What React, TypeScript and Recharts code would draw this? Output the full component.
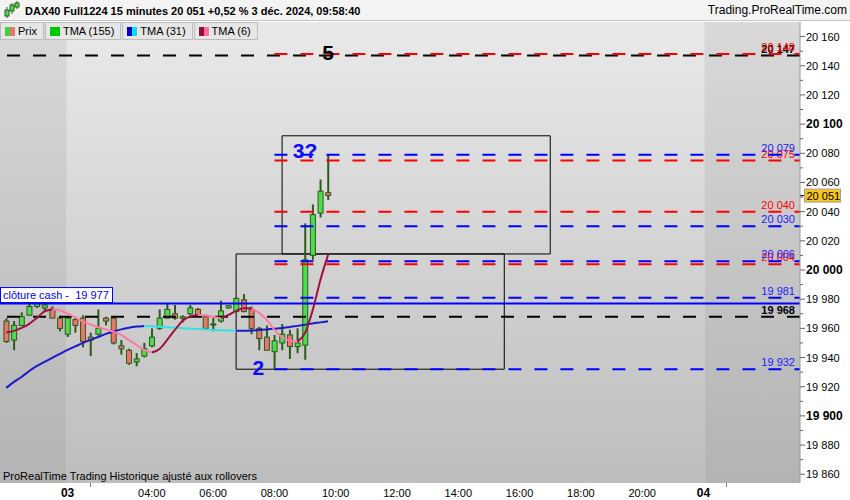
import React from 'react';
import { ComposedChart, Bar, Line, XAxis, YAxis, ReferenceLine, ReferenceArea, ReferenceDot } from 'recharts';

// 15 min bars, index 0 = 2 Dec 21:45 (last bar before the night gap), index 42 = 3 Dec 09:45
const candleOpen = [19965, 19952, 19962, 19969, 19975, 19974, 19973, 19967, 19956, 19966, 19967, 19954, 19956, 19967, 19967, 19948, 19945, 19937, 19941, 19948, 19960, 19967, 19970, 19967, 19970, 19973, 19968, 19963, 19965, 19974, 19971.5, 19979.5, 19973, 19960, 19954, 19944, 19950, 19955.5, 19947.5, 19948.5, 20010, 20039, 20053];
const candleHigh = [19967, 19965, 19971, 19978, 19979, 19978, 19975, 19968, 19968, 19968, 19969, 19957, 19973, 19968, 19968, 19952, 19946, 19943, 19950, 19960, 19973, 19977, 19976, 19969, 19976, 19974, 19969, 19968, 19979, 19976, 19981, 19983.5, 19975, 19961, 19962, 19955.5, 19963, 19959, 19960, 20032, 20045, 20062, 20079];
const candleLow = [19950, 19945, 19962, 19969, 19974, 19972, 19967, 19958, 19954, 19957, 19947, 19941, 19955, 19962, 19949, 19942, 19935, 19934, 19940, 19947, 19959, 19967, 19966, 19964, 19969, 19969, 19960, 19958, 19964, 19973.5, 19971, 19971, 19956, 19945, 19945, 19932, 19945, 19939, 19943, 19938.5, 20007, 20036, 20048];
const candleClose = [19951, 19962, 19968, 19975, 19977, 19976, 19967, 19960, 19967, 19962, 19951, 19952, 19960, 19965, 19950, 19946, 19936, 19939, 19946, 19954, 19967, 19973, 19967, 19968, 19974, 19969, 19960, 19962.5, 19972, 19975.5, 19980.5, 19971.5, 19960, 19953, 19945, 19951.5, 19956, 19947.5, 19950, 20007, 20038, 20054, 20051];

const tma31 = [19919.2, 19923.3, 19926.7, 19930.8, 19934.3, 19937, 19939.8, 19942.5, 19945.2, 19947.6, 19950, 19952.1, 19954.1, 19956.2, 19957.9, 19959.3, 19960.4, 19961.2, 19961.7, 19961.5, 19961.1, 19960.8, 19960.4, 19960.1, 19959.8, 19959.5, 19959.2, 19958.9, 19958.7, 19958.5, 19958.3, 19958.4, 19958.6, 19958.9, 19959.3, 19959.8, 19960.3, 19961, 19961.7, 19962.5, 19963.4, 19964.1, 19964.9];
const tma6 = [19957.2, 19958.3, 19960.3, 19963.1, 19967.2, 19971.6, 19973.1, 19972.3, 19970.2, 19967.5, 19964.8, 19962.7, 19960.8, 19959.3, 19957.7, 19955.5, 19952.1, 19948.6, 19945.2, 19943.4, 19945.9, 19952.1, 19958.9, 19965.1, 19968.2, 19969.2, 19969, 19967.8, 19967, 19969.2, 19972, 19973.7, 19973.8, 19970.6, 19965.8, 19958.9, 19953.8, 19951.7, 19950.9, 19956.9, 19972.6, 19993.2, 20010.4];

// x axis (bar index) ticks
const xTickIdx = [8, 11, 19, 27, 35, 43, 51, 59, 67, 75, 83, 91, 94];
const xTickLabels = ['03', '', '04:00', '06:00', '08:00', '10:00', '12:00', '14:00', '16:00', '18:00', '20:00', '04', ''];
const xMin = -0.82;
const xMax = 103.6;
const sessionStart = 7.9;
const sessionEnd = 91.1;

const yMajor = [19860, 19880, 19900, 19920, 19940, 19960, 19980, 20000, 20020, 20040, 20060, 20080, 20100, 20120, 20140, 20160];

// drawn levels
const redLevels = [20148, 20075, 20040, 20004];
const blueLevels = [20079, 20030, 20006, 19981, 19932];
const blackLevels = [20147, 19968];
const cashClose = 19977;
const levelsFromBar = 35;

const boxFrom = [30, 36];
const boxTo = [65, 71];
const boxLow = [19932, 20011];
const boxHigh = [20011, 20092];

const waveLabels = ['2', '3?', '5'];
const waveBars = [32.9, 39, 42];
const wavePrices = [19932.5, 20081.5, 20149];

const legendNames = ['Prix', 'TMA (155)', 'TMA (31)', 'TMA (6)'];
const legendColors = [['#3fd13f', '#e8766a'], ['#00c800', '#00c800'], ['#0000c8', '#00e0ff'], ['#9b0a3c', '#ff6f9a']];

const C = {
  up: '#4fdb4f',
  down: '#e8766a',
  edge: '#2c5a1a',
  blue31: '#1a1acb',
  cyan31: '#2fe4e4',
  rise6: '#a0103f',
  fall6: '#ff7aa2',
  red: '#ff0000',
  blue: '#0000ff',
};

const fmt = (v: number) => {
  const s = Math.round(v).toString();
  return s.slice(0, s.length - 3) + ' ' + s.slice(-3);
};

// split a series in rising / falling pieces so each can get its own colour
const pieces = (s: number[], rising: boolean) =>
  s.map((v, i) => {
    const prev = i > 0 && (rising ? v >= s[i - 1] : v < s[i - 1]);
    const next = i < s.length - 1 && (rising ? s[i + 1] >= v : s[i + 1] < v);
    return prev || next ? v : null;
  });

const r31 = pieces(tma31, true);
const f31 = pieces(tma31, false);
const r6 = pieces(tma6, true);
const f6 = pieces(tma6, false);

const data = candleOpen.map((open, i) => ({
  i,
  open,
  high: candleHigh[i],
  low: candleLow[i],
  close: candleClose[i],
  hl: [candleLow[i], candleHigh[i]],
  r31: r31[i],
  f31: f31[i],
  r6: r6[i],
  f6: f6[i],
}));

const Candle = (props: any) => {
  const { x, y, width, height, payload } = props;
  if (x == null || height == null) return null;
  const top0 = Math.min(y, y + height);
  const h = Math.abs(height);
  const k = h / (payload.high - payload.low);
  const cx = x + width / 2;
  const yo = top0 + (payload.high - payload.open) * k;
  const yc = top0 + (payload.high - payload.close) * k;
  const bt = Math.min(yo, yc);
  const bh = Math.max(Math.abs(yo - yc), 1);
  return (
    <g>
      <line x1={cx} x2={cx} y1={top0} y2={top0 + h} stroke={C.edge} strokeWidth={2} />
      <rect x={x + 0.5} y={bt} width={width - 1} height={bh} fill={payload.close >= payload.open ? C.up : C.down} stroke={C.edge} strokeWidth={1} />
    </g>
  );
};

const YTick = (props: any) => {
  const { x, y, payload } = props;
  const v = payload.value;
  const major = v % 20 === 0;
  const bold = v % 100 === 0;
  return (
    <g>
      <line x1={x} x2={x + (major ? 5 : 3)} y1={y} y2={y} stroke="#666" />
      {major && (
        <text x={x + 6} y={y + 4} fontSize={bold ? 12 : 11} fontWeight={bold ? 'bold' : 'normal'} fill="#000">
          {fmt(v)}
        </text>
      )}
    </g>
  );
};

const XTick = (props: any) => {
  const { x, y, payload } = props;
  const label = xTickLabels[xTickIdx.indexOf(payload.value)];
  if (!label) return <line x1={x} x2={x} y1={y} y2={y + 4} stroke="#777" />;
  const bold = !label.includes(':');
  return (
    <text x={x} y={y + 14} textAnchor="middle" fontSize={bold ? 12 : 11} fontWeight={bold ? 'bold' : 'normal'} fill="#000">
      {label}
    </text>
  );
};

const LevelLabel = (props: any) => {
  const { viewBox, text, color, bold } = props;
  if (!viewBox) return null;
  return (
    <text x={viewBox.x + viewBox.width - 5} y={viewBox.y - 3} textAnchor="end" fontSize={11} fontWeight={bold ? 'bold' : 'normal'} fill={color}>
      {text}
    </text>
  );
};

const CashLabel = (props: any) => {
  const { viewBox } = props;
  if (!viewBox) return null;
  return (
    <g>
      <rect x={0.5} y={viewBox.y - 16} width={112} height={15} fill="#fff" stroke={C.blue} strokeWidth={1} />
      <text x={3} y={viewBox.y - 4.5} fontSize={11} fill={C.blue} style={{ whiteSpace: 'pre' }}>
        {'clôture cash -  ' + fmt(cashClose)}
      </text>
    </g>
  );
};

const PriceTag = (props: any) => {
  const { viewBox } = props;
  if (!viewBox) return null;
  const x = viewBox.x + viewBox.width;
  const y = viewBox.y;
  return (
    <g>
      <line x1={x} x2={x + 5} y1={y} y2={y} stroke="#000" />
      <rect x={x + 4.5} y={y - 6.5} width={36} height={13} fill="#f7c51b" stroke="#a0a0a0" />
      <text x={x + 6.5} y={y + 4} fontSize={11} fill="#000">
        {fmt(candleClose[candleClose.length - 1])}
      </text>
    </g>
  );
};

const WaveText = (props: any) => {
  const { viewBox, text, color } = props;
  if (!viewBox) return null;
  return (
    <text x={viewBox.x + viewBox.width / 2} y={viewBox.y + viewBox.height / 2 + 7} textAnchor="middle" fontSize={21} fontWeight="bold" fill={color}>
      {text}
    </text>
  );
};

const Header = () => (
  <div style={{ position: 'absolute', top: 0, left: 0, width: 850, height: 20, background: '#f4f4f4', borderBottom: '1px solid #c4c4c4' }}>
    <svg width={20} height={20} style={{ position: 'absolute', left: 2, top: 0 }}>
      <line x1={5} x2={5} y1={7} y2={18} stroke="#2c5a1a" />
      <rect x={3} y={10} width={4} height={6} fill="#4fdb4f" stroke="#2c5a1a" />
      <line x1={10} x2={10} y1={3} y2={14} stroke="#2c5a1a" />
      <rect x={8} y={5} width={4} height={6} fill="#4fdb4f" stroke="#2c5a1a" />
      <line x1={15} x2={15} y1={1} y2={9} stroke="#2c5a1a" />
      <rect x={13} y={3} width={4} height={4} fill="#4fdb4f" stroke="#2c5a1a" />
    </svg>
    <span style={{ position: 'absolute', left: 25, top: 5, fontSize: 11, fontWeight: 'bold', lineHeight: '12px', whiteSpace: 'nowrap' }}>
      DAX40 Full1224 15 minutes 20 051 +0,52 % 3 déc. 2024, 09:58:40
    </span>
    <span style={{ position: 'absolute', right: 3, top: 4, fontSize: 12, lineHeight: '13px' }}>Trading.ProRealTime.com</span>
  </div>
);

const LegendRow = () => (
  <div style={{ position: 'absolute', top: 22, left: 0, display: 'flex', gap: 1 }}>
    {legendNames.map((name, i) => (
      <div
        key={name}
        style={{ height: 16, display: 'flex', alignItems: 'center', background: '#e6e6e6', border: '1px solid #bcbcbc', paddingLeft: 4, paddingRight: 6, fontSize: 11 }}
      >
        <span style={{ display: 'inline-block', width: 5, height: 9, background: legendColors[i][0] }} />
        <span style={{ display: 'inline-block', width: 5, height: 9, background: legendColors[i][1], marginRight: 3 }} />
        {name}
      </div>
    ))}
  </div>
);

export default function App() {
  const yTicks = yMajor.flatMap((v) => [v, v + 10]).filter((v) => v <= 20160);
  return (
    <div style={{ position: 'relative', width: 850, height: 500, background: '#fff', overflow: 'hidden', fontFamily: '"Liberation Sans", Arial, sans-serif' }}>
      <style>{'body{margin:0}'}</style>
      <Header />
      <div style={{ position: 'absolute', top: 21, left: 0 }}>
        <ComposedChart width={850} height={479} data={data} margin={{ top: 1, right: 0, bottom: 0, left: 0 }}>
          <defs>
            <linearGradient id="bgMain" x1="0" y1="0" x2="0" y2="1">
              <stop offset="0%" stopColor="#e9e9e9" />
              <stop offset="100%" stopColor="#bdbdbd" />
            </linearGradient>
            <linearGradient id="bgOff" x1="0" y1="0" x2="0" y2="1">
              <stop offset="0%" stopColor="#d9d9d9" />
              <stop offset="100%" stopColor="#b3b3b3" />
            </linearGradient>
          </defs>
          <XAxis
            dataKey="i"
            type="number"
            domain={[xMin, xMax]}
            allowDataOverflow
            ticks={xTickIdx}
            interval={0}
            tick={<XTick />}
            tickLine={false}
            tickSize={0}
            tickMargin={0}
            axisLine={false}
            height={17}
          />
          <YAxis
            orientation="right"
            domain={[19854, 20170]}
            allowDataOverflow
            ticks={yTicks}
            interval={0}
            tick={<YTick />}
            tickLine={false}
            tickSize={0}
            tickMargin={0}
            axisLine={{ stroke: '#9a9a9a' }}
            width={50}
          />
          <ReferenceArea x1={xMin} x2={sessionStart} y1={19854} y2={20170} fill="url(#bgOff)" fillOpacity={1} stroke="none" />
          <ReferenceArea x1={sessionStart} x2={sessionEnd} y1={19854} y2={20170} fill="url(#bgMain)" fillOpacity={1} stroke="none" />
          <ReferenceArea x1={sessionEnd} x2={xMax} y1={19854} y2={20170} fill="url(#bgOff)" fillOpacity={1} stroke="none" />

          {boxFrom.map((b, k) => (
            <ReferenceArea key={'box' + k} x1={b} x2={boxTo[k]} y1={boxLow[k]} y2={boxHigh[k]} fill="none" stroke="#000" strokeWidth={1} />
          ))}

          {blackLevels.map((v) => (
            <ReferenceLine key={'k' + v} y={v} stroke="#000" strokeWidth={2} strokeDasharray="13 13" label={<LevelLabel text={fmt(v)} color="#000" bold />} />
          ))}
          <ReferenceLine y={cashClose} stroke={C.blue} strokeWidth={2} label={<CashLabel />} />
          {redLevels.map((v) => (
            <ReferenceLine
              key={'r' + v}
              segment={[{ x: levelsFromBar, y: v }, { x: xMax, y: v }]}
              stroke={C.red}
              strokeWidth={2}
              strokeDasharray="13 13"
              label={<LevelLabel text={fmt(v)} color={C.red} />}
            />
          ))}
          {blueLevels.map((v) => (
            <ReferenceLine
              key={'b' + v}
              segment={[{ x: levelsFromBar, y: v }, { x: xMax, y: v }]}
              stroke={C.blue}
              strokeWidth={2}
              strokeDasharray="13 13"
              label={<LevelLabel text={fmt(v)} color="#2020ff" />}
            />
          ))}
          <ReferenceLine y={candleClose[candleClose.length - 1]} stroke="none" label={<PriceTag />} />

          <Bar dataKey="hl" barSize={6} shape={<Candle />} isAnimationActive={false} />
          <Line dataKey="r31" type="monotone" stroke={C.blue31} strokeWidth={2} dot={false} activeDot={false} connectNulls={false} isAnimationActive={false} />
          <Line dataKey="f31" type="monotone" stroke={C.cyan31} strokeWidth={2} dot={false} activeDot={false} connectNulls={false} isAnimationActive={false} />
          <Line dataKey="r6" type="monotone" stroke={C.rise6} strokeWidth={2} dot={false} activeDot={false} connectNulls={false} isAnimationActive={false} />
          <Line dataKey="f6" type="monotone" stroke={C.fall6} strokeWidth={2} dot={false} activeDot={false} connectNulls={false} isAnimationActive={false} />

          {waveLabels.map((t, k) => (
            <ReferenceDot
              key={'w' + k}
              x={waveBars[k]}
              y={wavePrices[k]}
              r={0}
              fill="none"
              stroke="none"
              label={<WaveText text={t} color={t === '5' ? '#000' : '#0a0aff'} />}
            />
          ))}
        </ComposedChart>
      </div>
      <LegendRow />
      <div style={{ position: 'absolute', left: 3, top: 470, fontSize: 11, lineHeight: '12px', whiteSpace: 'nowrap', color: '#000' }}>
        ProRealTime Trading Historique ajusté aux rollovers
      </div>
    </div>
  );
}
